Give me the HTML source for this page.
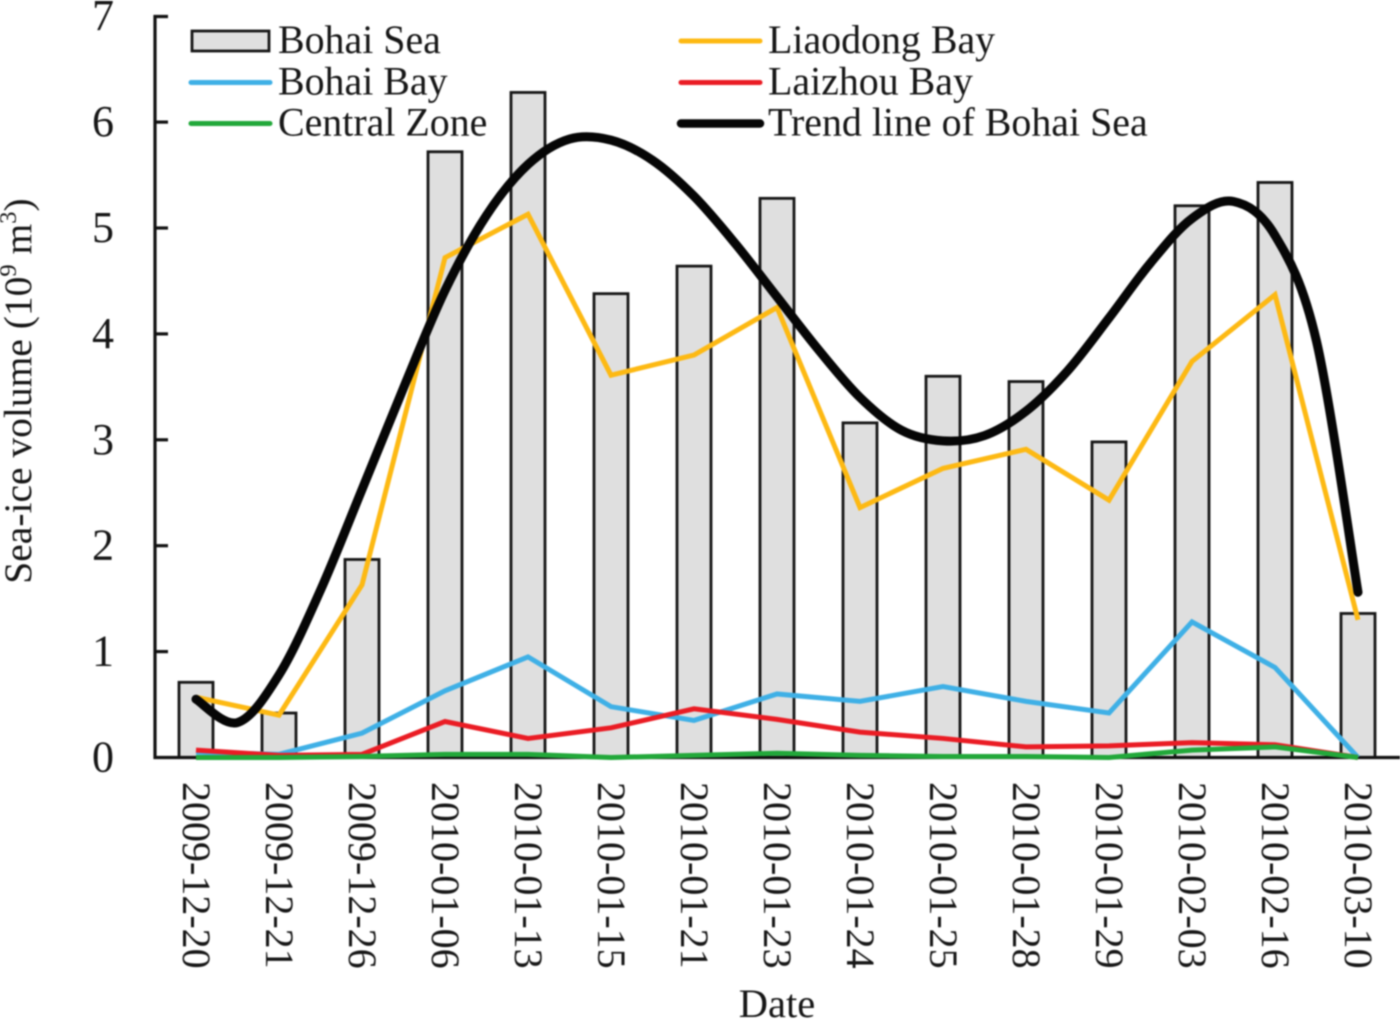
<!DOCTYPE html>
<html lang="en">
<head>
<meta charset="utf-8">
<title>Sea-ice volume chart</title>
<style>
html,body{margin:0;padding:0;background:#fff;}
body{width:1400px;height:1019px;overflow:hidden;}
svg{display:block;filter:blur(0.7px);}
text{font-family:"Liberation Serif","Times New Roman",serif;fill:#161616;}
</style>
</head>
<body>
<svg id="chart" xmlns="http://www.w3.org/2000/svg" width="1400" height="1019" viewBox="0 0 1400 1019">
<text transform="translate(31,391) rotate(-90)" text-anchor="middle" font-size="39.5">Sea-ice volume (10<tspan font-size="24.5" dy="-15">9</tspan><tspan dy="15"> m</tspan><tspan font-size="24.5" dy="-15">3</tspan><tspan dy="15">)</tspan></text>
<text x="777" y="1017" text-anchor="middle" font-size="40.5">Date</text>
</svg>
<script>
const categories = ['2009-12-20','2009-12-21','2009-12-26','2010-01-06','2010-01-13','2010-01-15','2010-01-21','2010-01-23','2010-01-24','2010-01-25','2010-01-28','2010-01-29','2010-02-03','2010-02-16','2010-03-10'];
const yTicks = [0,1,2,3,4,5,6,7];
const bohaiSea = [0.71,0.42,1.87,5.72,6.28,4.38,4.64,5.28,3.16,3.60,3.55,2.98,5.21,5.43,1.36];
const liaodongBay = [0.57,0.40,1.63,4.72,5.13,3.61,3.80,4.25,2.36,2.73,2.91,2.43,3.74,4.37,1.30];
const bohaiBay = [0.05,0.03,0.23,0.63,0.95,0.48,0.35,0.60,0.53,0.67,0.53,0.42,1.28,0.85,0.00];
const laizhouBay = [0.07,0.02,0.03,0.34,0.18,0.28,0.46,0.36,0.24,0.18,0.10,0.11,0.14,0.12,0.00];
const centralZone = [0.00,0.00,0.01,0.03,0.03,0.00,0.02,0.04,0.02,0.01,0.01,0.00,0.07,0.10,0.00];
// Trend line sampled every half category
const trendHalfStep = [0.55,0.33,0.78,1.58,2.53,3.49,4.41,5.12,5.60,5.84,5.83,5.64,5.30,4.85,4.35,3.85,3.40,3.09,2.99,3.04,3.27,3.65,4.15,4.67,5.09,5.25,4.93,3.93,1.56];
const legendLabels = ['Bohai Sea','Bohai Bay','Central Zone','Liaodong Bay','Laizhou Bay','Trend line of Bohai Sea'];

const svg = document.getElementById('chart');
const NS = 'http://www.w3.org/2000/svg';
const xScale = i => 196 + i * 83;
const yScale = v => 757.5 - v * 105.9;

function make(tag, attrs, parent) {
  const el = document.createElementNS(NS, tag);
  for (const k in attrs) el.setAttribute(k, attrs[k]);
  (parent || svg).appendChild(el);
  return el;
}

// Bars
bohaiSea.forEach((v, i) => {
  const bar = make('rect', {x: xScale(i) - 17, y: yScale(v), width: 34, height: yScale(0) - yScale(v), fill: '#dfdfdf', stroke: '#161616', 'stroke-width': 2.8});
  
  
});

// Axes
const yAxisLine = make('path', {d: `M168 16.5H155V${yScale(0)}H1400`, fill: 'none', stroke: '#111', 'stroke-width': 3.2});



yTicks.forEach(t => {
  if (t > 0 && t < 7) {
    const tick = make('line', {x1: 155, x2: 168, y1: yScale(t), y2: yScale(t), stroke: '#111', 'stroke-width': 3.2});
    
    
  }
  const lab = make('text', {x: 103, y: yScale(t) + 14, 'text-anchor': 'middle', 'font-size': 44});
  lab.textContent = t;
  
  
});

categories.forEach((c, i) => {
  const lab = make('text', {transform: `translate(${xScale(i) - 13},782) rotate(90)`, 'font-size': 40});
  lab.textContent = c;
  
  
});

function polyline(values, color, width) {
  const pts = values.map((v, i) => xScale(i) + ',' + yScale(v)).join(' ');
  return make('polyline', {points: pts, fill: 'none', stroke: color, 'stroke-width': width, 'stroke-linejoin': 'miter'});
}

const lineLiao = polyline(liaodongBay, '#fdb913', 5);


const lineBay = polyline(bohaiBay, '#3fb0e6', 5);


const lineLai = polyline(laizhouBay, '#ea1c24', 5);


const lineCen = polyline(centralZone, '#22a83a', 5);



// Smooth trend curve (Catmull-Rom through half-step samples)
const tp = trendHalfStep.map((v, k) => [xScale(k / 2), yScale(v)]);
let d = 'M' + tp[0][0] + ' ' + tp[0][1];
for (let k = 0; k < tp.length - 1; k++) {
  const a = tp[Math.max(k - 1, 0)], b = tp[k], c = tp[k + 1], e = tp[Math.min(k + 2, tp.length - 1)];
  d += ` C${b[0] + (c[0] - a[0]) / 6} ${b[1] + (c[1] - a[1]) / 6} ${c[0] - (e[0] - b[0]) / 6} ${c[1] - (e[1] - b[1]) / 6} ${c[0]} ${c[1]}`;
}
const trend = make('path', {d: d, fill: 'none', stroke: '#060606', 'stroke-width': 9, 'stroke-linecap': 'round'});



// Legend
const legendGroup = make('g', {});


const legendRows = [41, 82.5, 123.5];
const legendColors = [null, '#3fb0e6', '#22a83a', '#fdb913', '#ea1c24', '#060606'];
legendLabels.forEach((label, i) => {
  const col = i < 3 ? 0 : 1;
  const y = legendRows[i % 3];
  const x0 = col ? 681 : 191;
  let sw;
  if (i === 0) {
    sw = make('rect', {x: 192, y: 31, width: 77, height: 20, fill: '#dfdfdf', stroke: '#161616', 'stroke-width': 2.8}, legendGroup);
  } else {
    sw = make('line', {x1: x0, x2: x0 + 79, y1: y, y2: y, stroke: legendColors[i], 'stroke-width': i === 5 ? 8.5 : 5, 'stroke-linecap': 'round'}, legendGroup);
  }
  
  
  const t = make('text', {x: col ? 768 : 278, y: y + 12, 'font-size': 39.9}, legendGroup);
  t.textContent = label;
  
  
});
</script>
</body>
</html>
